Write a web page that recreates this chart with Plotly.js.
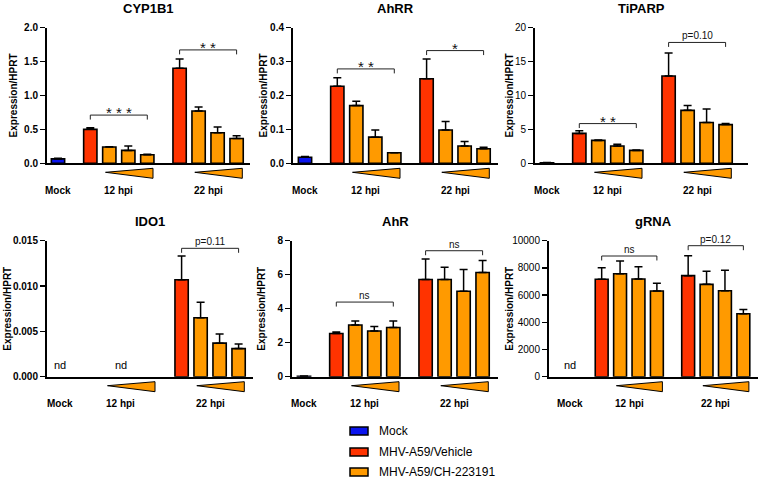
<!DOCTYPE html>
<html><head><meta charset="utf-8">
<script src="https://cdn.plot.ly/plotly-3.0.1.min.js"></script>
<style>html,body{margin:0;padding:0;background:#fff}#chart{width:760px;height:481px}</style>
</head><body><div id="chart"></div>
<script>
// ---------- DATA ----------
const genes = ['CYP1B1', 'AhRR', 'TiPARP', 'IDO1', 'AhR', 'gRNA'];
const groupLabels = ['Mock', '12 hpi', '22 hpi'];
const seriesNames = ['Mock', 'MHV-A59/Vehicle', 'MHV-A59/CH-223191'];
const yTitle = 'Expression/HPRT';

// CYP1B1
const cyp1b1Mock = [0.065], cyp1b1MockErr = [0.01];
const cyp1b1Vehicle = [0.50, 1.40], cyp1b1VehicleErr = [0.025, 0.135];
const cyp1b1CH = [0.24, 0.19, 0.125, 0.77, 0.45, 0.365];
const cyp1b1CHErr = [0.005, 0.065, 0.01, 0.06, 0.085, 0.04];
const cyp1b1Sig = ['***', '**'], cyp1b1SigLevel = [0.71, 1.67];

// AhRR
const ahrrMock = [0.018], ahrrMockErr = [0.002];
const ahrrVehicle = [0.227, 0.249], ahrrVehicleErr = [0.025, 0.058];
const ahrrCH = [0.170, 0.077, 0.031, 0.098, 0.051, 0.043];
const ahrrCHErr = [0.013, 0.021, 0, 0.025, 0.013, 0.004];
const ahrrSig = ['**', '*'], ahrrSigLevel = [0.278, 0.332];

// TiPARP
const tiparpMock = [0.08], tiparpMockErr = [0.02];
const tiparpVehicle = [4.4, 12.85], tiparpVehicleErr = [0.4, 3.4];
const tiparpCH = [3.37, 2.55, 1.9, 7.8, 6.0, 5.7];
const tiparpCHErr = [0.05, 0.25, 0.05, 0.7, 2.0, 0.15];
const tiparpSig = ['**', 'p=0.10'], tiparpSigLevel = [5.85, 17.8];

// IDO1 (null = not detected)
const ido1Mock = [null], ido1MockErr = [0];
const ido1Vehicle = [null, 0.0107], ido1VehicleErr = [0, 0.0026];
const ido1CH = [null, null, null, 0.0065, 0.0037, 0.0031];
const ido1CHErr = [0, 0, 0, 0.0017, 0.001, 0.0005];
const ido1Sig = [null, 'p=0.11'], ido1SigLevel = [null, 0.01416];

// AhR
const ahrMock = [0.03], ahrMockErr = [0.01];
const ahrVehicle = [2.54, 5.72], ahrVehicleErr = [0.09, 1.2];
const ahrCH = [3.04, 2.69, 2.89, 5.72, 5.03, 6.13];
const ahrCHErr = [0.23, 0.27, 0.39, 0.72, 1.27, 0.7];
const ahrSig = ['ns', 'ns'], ahrSigLevel = [4.39, 7.41];

// gRNA
const grnaMock = [null], grnaMockErr = [0];
const grnaVehicle = [7160, 7430], grnaVehicleErr = [850, 1470];
const grnaCH = [7570, 7180, 6300, 6790, 6320, 4630];
const grnaCHErr = [930, 900, 570, 960, 1500, 320];
const grnaSig = ['ns', 'p=0.12'], grnaSigLevel = [8875, 9632];

// axis scales
const yMax = [2, 0.4, 20, 0.015, 8, 10000];
const yStep = [0.5, 0.1, 5, 0.005, 2, 2000];
const yFormat = ['.1f', '.1f', 'd', '.3f', 'd', 'd'];

// ---------- BUILD ----------
const sets = [
  [cyp1b1Mock, cyp1b1MockErr, cyp1b1Vehicle, cyp1b1VehicleErr, cyp1b1CH, cyp1b1CHErr, cyp1b1Sig, cyp1b1SigLevel],
  [ahrrMock, ahrrMockErr, ahrrVehicle, ahrrVehicleErr, ahrrCH, ahrrCHErr, ahrrSig, ahrrSigLevel],
  [tiparpMock, tiparpMockErr, tiparpVehicle, tiparpVehicleErr, tiparpCH, tiparpCHErr, tiparpSig, tiparpSigLevel],
  [ido1Mock, ido1MockErr, ido1Vehicle, ido1VehicleErr, ido1CH, ido1CHErr, ido1Sig, ido1SigLevel],
  [ahrMock, ahrMockErr, ahrVehicle, ahrVehicleErr, ahrCH, ahrCHErr, ahrSig, ahrSigLevel],
  [grnaMock, grnaMockErr, grnaVehicle, grnaVehicleErr, grnaCH, grnaCHErr, grnaSig, grnaSigLevel]
];

const W = 760, H = 481;
const FONT = '"Liberation Sans", Arial, Helvetica, sans-serif';
const COL = ['#0a14ee', '#ff3300', '#ff9a00'];
const INK = '#000000';

// bar slots (category positions)
const posMock = [0];
const posVeh = [1.7, 6.4];
const posCH = [2.7, 3.7, 4.7, 7.4, 8.4, 9.4];
const BARW = 0.7;

// panel pixel geometry
const panels = [
  {x0: 47,  x1: 250, mock: 58,    unit: 19,   top: 27.5,  bot: 163.3, tOff: 34, bold: true},
  {x0: 293, x1: 498, mock: 305,   unit: 19,   top: 27.5,  bot: 163.3, tOff: 30, bold: true},
  {x0: 535, x1: 748, mock: 547,   unit: 19,   top: 27.5,  bot: 163.3, tOff: 26, bold: false},
  {x0: 47,  x1: 253, mock: 60,    unit: 19,   top: 240.7, bot: 376.7, tOff: 39, bold: true},
  {x0: 292, x1: 498, mock: 304,   unit: 19,   top: 240.7, bot: 376.7, tOff: 30, bold: true},
  {x0: 549, x1: 758, mock: 570.4, unit: 18.4, top: 240.7, bot: 376.7, tOff: 39, bold: false}
];
const py = p => 1 - p / H;
const px = p => p / W;

const traces = [], shapes = [], annotations = [];
const layout = {
  width: W, height: H, margin: {l: 0, r: 0, t: 0, b: 0},
  paper_bgcolor: '#fff', plot_bgcolor: '#fff',
  font: {family: FONT, color: INK},
  barmode: 'overlay', showlegend: false, hovermode: false
};

function bar(xs, ys, errs, color, name, xa, ya) {
  return {
    type: 'bar', x: xs, y: ys, width: BARW, name: name,
    marker: {color: color, line: {color: INK, width: 1.6}},
    error_y: {type: 'data', symmetric: false, array: errs, arrayminus: errs.map(() => 0),
              color: INK, thickness: 1.5, width: 4},
    xaxis: xa, yaxis: ya, hoverinfo: 'skip', showlegend: false
  };
}

genes.forEach((g, i) => {
  const p = panels[i];
  const [mock, mockErr, veh, vehErr, ch, chErr, sig, sigLvl] = sets[i];
  const n = i === 0 ? '' : String(i + 1);
  const xa = 'x' + n, ya = 'y' + n;
  layout['xaxis' + n] = {
    domain: [px(p.x0), px(p.x1)], anchor: ya,
    range: [(p.x0 - p.mock) / p.unit, (p.x1 - p.mock) / p.unit],
    showline: true, linewidth: 2, linecolor: INK, ticks: '', showticklabels: false,
    showgrid: false, zeroline: false, fixedrange: true
  };
  layout['yaxis' + n] = {
    domain: [py(p.bot), py(p.top)], anchor: xa,
    range: [0, yMax[i]], dtick: yStep[i], tick0: 0, tickformat: yFormat[i],
    showline: true, linewidth: 2, linecolor: INK, ticks: 'outside', ticklen: 5, tickwidth: 1.5,
    tickcolor: INK, showgrid: false, zeroline: false, fixedrange: true,
    tickfont: {family: FONT, size: 10, weight: p.bold ? 'bold' : 'normal', color: INK}
  };

  traces.push(bar(posMock, mock, mockErr, COL[0], seriesNames[0], xa, ya));
  traces.push(bar(posVeh, veh, vehErr, COL[1], seriesNames[1], xa, ya));
  traces.push(bar(posCH, ch, chErr, COL[2], seriesNames[2], xa, ya));

  // title
  annotations.push({xref: 'paper', yref: 'paper', x: px((p.x0 + p.x1) / 2), y: py(p.top - 19),
    text: g, showarrow: false, xanchor: 'center', yanchor: 'middle',
    font: {family: FONT, size: 13, weight: 'bold', color: INK}});
  // y title
  annotations.push({xref: 'paper', yref: 'paper', x: px(p.x0 - p.tOff), y: py((p.top + p.bot) / 2),
    text: yTitle, textangle: -90, showarrow: false, xanchor: 'center', yanchor: 'middle',
    font: {family: FONT, size: 10, weight: 'bold', color: INK}});

  // group centres
  const centers = [posMock[0], (posVeh[0] + posCH[2]) / 2, (posVeh[1] + posCH[5]) / 2];
  groupLabels.forEach((t, k) => {
    annotations.push({xref: xa, yref: 'paper', x: centers[k], y: py(p.bot + 27),
      text: t, showarrow: false, xanchor: 'center', yanchor: 'middle',
      font: {family: FONT, size: 10, weight: 'bold', color: INK}});
  });

  // not-detected labels
  const nd = x => annotations.push({xref: xa, yref: ya, x: x, y: 0, text: 'nd', showarrow: false,
      yanchor: 'bottom', yshift: 4, font: {family: FONT, size: 11, color: INK}});
  if (mock[0] === null) nd(posMock[0]);
  [0, 1].forEach(k => { if (veh[k] === null) nd(centers[k + 1]); });

  // wedges (increasing inhibitor dose)
  [0, 1].forEach(k => {
    const xl = posCH[k * 3] - 0.2, xr = posCH[k * 3 + 2] + 0.3;
    shapes.push({type: 'path', xref: xa, yref: 'paper',
      path: `M${xl},${py(p.bot + 9)} L${xr},${py(p.bot + 5)} L${xr},${py(p.bot + 15)} Z`,
      fillcolor: COL[2], line: {color: INK, width: 1}});
  });

  // significance brackets
  const leg = 0.033 * yMax[i];
  [0, 1].forEach(k => {
    if (sig[k] === null) return;
    const xl = posVeh[k], xr = posCH[k * 3 + 2], lv = sigLvl[k];
    shapes.push({type: 'path', xref: xa, yref: ya,
      path: `M${xl},${lv - leg} L${xl},${lv} L${xr},${lv} L${xr},${lv - leg}`,
      line: {color: '#222', width: 1}});
    const star = sig[k].indexOf('*') === 0;
    annotations.push({xref: xa, yref: ya, x: (xl + xr) / 2, y: lv,
      text: star ? sig[k].split('').join(' ') : sig[k], showarrow: false,
      xanchor: 'center', yanchor: 'bottom', yshift: star ? -8 : -1,
      font: {family: FONT, size: star ? 15 : 10, color: '#111'}});
  });
});

// legend (custom swatches)
const legY = [431, 452, 472];
seriesNames.forEach((s, k) => {
  shapes.push({type: 'rect', xref: 'paper', yref: 'paper',
    x0: px(350), x1: px(368), y0: py(legY[k] + 4), y1: py(legY[k] - 4),
    fillcolor: COL[k], line: {color: INK, width: 1.5}});
  annotations.push({xref: 'paper', yref: 'paper', x: px(377), y: py(legY[k]), text: s,
    showarrow: false, xanchor: 'left', yanchor: 'middle', font: {family: FONT, size: 12, color: INK}});
});

layout.shapes = shapes;
layout.annotations = annotations;
Plotly.newPlot('chart', traces, layout, {staticPlot: true, displayModeBar: false});
</script>
</body></html>
